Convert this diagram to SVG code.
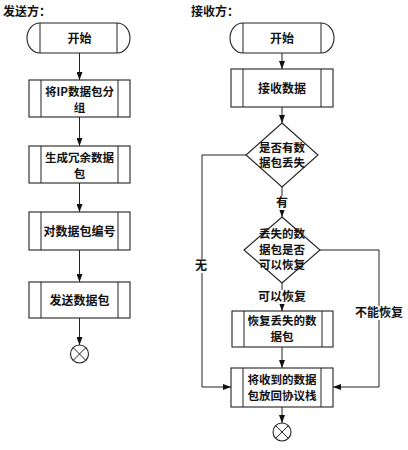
<svg xmlns="http://www.w3.org/2000/svg" width="408" height="450" viewBox="0 0 408 450">
<style>
.s{fill:#fff;stroke:#222;stroke-width:1.1}
.l{fill:none;stroke:#222;stroke-width:1}
text{font-family:"Noto Sans CJK SC","Noto Sans",sans-serif;font-size:12px;font-weight:700;fill:#111;text-anchor:middle}
.d{font-size:11.5px}
.t{text-anchor:start}
.bg{fill:#fff;stroke:none}
</style>
<defs>
<marker id="a" markerWidth="8" markerHeight="6" refX="8" refY="3" orient="auto" markerUnits="userSpaceOnUse">
<path d="M0,0 L8,3 L0,6 Z" fill="#111"/>
</marker>
</defs>
<rect width="408" height="450" fill="#fff"/>
<text class="t" x="3" y="16">发送方：</text>
<text class="t" x="191" y="16">接收方：</text>

<g id="connectors">
<line class="l" x1="79.5" y1="53" x2="79.5" y2="80" marker-end="url(#a)"/>
<line class="l" x1="79.5" y1="117" x2="79.5" y2="146" marker-end="url(#a)"/>
<line class="l" x1="79.5" y1="183" x2="79.5" y2="212" marker-end="url(#a)"/>
<line class="l" x1="79.5" y1="250" x2="79.5" y2="282" marker-end="url(#a)"/>
<line class="l" x1="79.5" y1="318" x2="79.5" y2="345" marker-end="url(#a)"/>
<line class="l" x1="282" y1="53" x2="282" y2="69" marker-end="url(#a)"/>
<line class="l" x1="282" y1="107" x2="282" y2="123" marker-end="url(#a)"/>
<line class="l" x1="282" y1="187" x2="282" y2="217" marker-end="url(#a)"/>
<line class="l" x1="282" y1="283" x2="282" y2="311" marker-end="url(#a)"/>
<line class="l" x1="282" y1="347" x2="282" y2="368" marker-end="url(#a)"/>
<line class="l" x1="282" y1="407" x2="282" y2="423" marker-end="url(#a)"/>
<polyline class="l" points="246,155 202,155 202,387 231,387" marker-end="url(#a)"/>
<polyline class="l" points="320,250 379,250 379,387 333,387" marker-end="url(#a)"/>
<rect class="bg" x="274" y="196" width="16" height="14"/>
<text x="282" y="207">有</text>
<rect class="bg" x="257" y="290" width="50" height="14"/>
<text x="282" y="301">可以恢复</text>
<rect class="bg" x="194" y="259" width="16" height="14"/>
<text x="201" y="270">无</text>
<rect class="bg" x="355" y="306" width="48" height="14"/>
<text x="379" y="317">不能恢复</text>
</g>

<g id="send-start">
<path class="s" d="M40,23 H117 A13,15 0 0 1 117,53 H40 A13,15 0 0 1 40,23 Z"/>
<line class="l" x1="40" y1="23" x2="40" y2="53"/><line class="l" x1="117" y1="23" x2="117" y2="53"/>
<text x="79.5" y="42.5">开始</text>
</g>
<g id="send-split">
<rect class="s" x="29" y="80" width="101" height="37"/>
<line class="l" x1="41" y1="80" x2="41" y2="117"/><line class="l" x1="118" y1="80" x2="118" y2="117"/>
<text class="d" x="79.5" y="96">将IP数据包分</text>
<text class="d" x="79.5" y="112">组</text>
</g>
<g id="send-redundant">
<rect class="s" x="29" y="146" width="101" height="37"/>
<line class="l" x1="41" y1="146" x2="41" y2="183"/><line class="l" x1="118" y1="146" x2="118" y2="183"/>
<text class="d" x="79.5" y="162">生成冗余数据</text>
<text class="d" x="79.5" y="178">包</text>
</g>
<g id="send-number">
<rect class="s" x="29" y="212" width="101" height="38"/>
<line class="l" x1="41" y1="212" x2="41" y2="250"/><line class="l" x1="118" y1="212" x2="118" y2="250"/>
<text x="79.5" y="235.5">对数据包编号</text>
</g>
<g id="send-send">
<rect class="s" x="29" y="282" width="101" height="36"/>
<line class="l" x1="41" y1="282" x2="41" y2="318"/><line class="l" x1="118" y1="282" x2="118" y2="318"/>
<text x="79.5" y="304.5">发送数据包</text>
</g>
<g id="send-end">
<circle class="s" cx="79.5" cy="354" r="9"/>
<path class="l" d="M73.1,347.6 L85.9,360.4 M85.9,347.6 L73.1,360.4"/>
</g>

<g id="recv-start">
<path class="s" d="M243,23 H321 A13,15 0 0 1 321,53 H243 A13,15 0 0 1 243,23 Z"/>
<line class="l" x1="243" y1="23" x2="243" y2="53"/><line class="l" x1="321" y1="23" x2="321" y2="53"/>
<text x="282" y="42.5">开始</text>
</g>
<g id="recv-receive">
<rect class="s" x="231" y="69" width="102" height="38"/>
<line class="l" x1="243" y1="69" x2="243" y2="107"/><line class="l" x1="321" y1="69" x2="321" y2="107"/>
<text x="282" y="92.5">接收数据</text>
</g>
<g id="recv-lost">
<path class="s" d="M282,123 L318,155 L282,187 L246,155 Z"/>
<text class="d" x="282" y="151.5">是否有数</text>
<text class="d" x="282" y="167">据包丢失</text>
</g>
<g id="recv-recoverable">
<path class="s" d="M282,217 L320,250 L282,283 L244,250 Z"/>
<text class="d" x="282" y="238">丢失的数</text>
<text class="d" x="282" y="253.5">据包是否</text>
<text class="d" x="282" y="269">可以恢复</text>
</g>
<g id="recv-recover">
<rect class="s" x="232" y="311" width="101" height="36"/>
<line class="l" x1="244" y1="311" x2="244" y2="347"/><line class="l" x1="322" y1="311" x2="322" y2="347"/>
<text class="d" x="282" y="325">恢复丢失的数</text>
<text class="d" x="282" y="341">据包</text>
</g>
<g id="recv-return">
<rect class="s" x="231" y="368" width="102" height="39"/>
<line class="l" x1="243" y1="368" x2="243" y2="407"/><line class="l" x1="321" y1="368" x2="321" y2="407"/>
<text class="d" x="282" y="384">将收到的数据</text>
<text class="d" x="282" y="400">包放回协议栈</text>
</g>
<g id="recv-end">
<circle class="s" cx="282" cy="432" r="9"/>
<path class="l" d="M275.6,425.6 L288.4,438.4 M288.4,425.6 L275.6,438.4"/>
</g>
</svg>
